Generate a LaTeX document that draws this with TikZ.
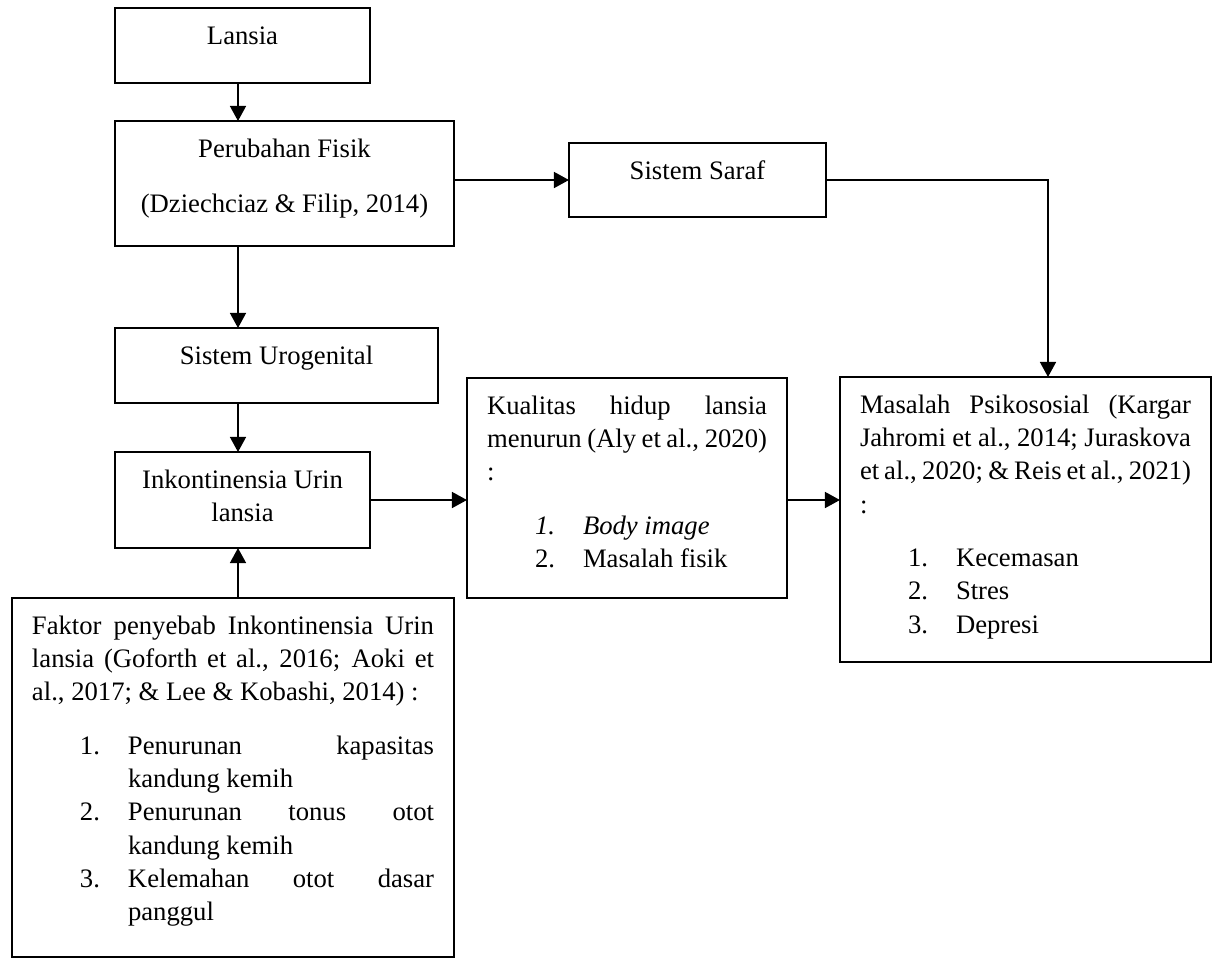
\documentclass[tikz,border=0pt]{standalone}
\usepackage{fontspec}
\setmainfont{Liberation Serif}
\usetikzlibrary{arrows.meta, positioning}

\newdimen\pxu
\pxu=0.45pt
% box of fixed size, text starts at the top
\newcommand{\isi}[4]{%
  \begin{minipage}[t][#2\pxu][t]{#1\pxu}%
  \hspace*{#3\pxu}%
  \begin{minipage}[t]{\dimexpr\pxu*#1-\pxu*#3*2\relax}%
  \rule{0pt}{36\pxu}#4%
  \end{minipage}%
  \end{minipage}}
\newcommand{\butir}[1]{\hspace*{48\pxu}\makebox[48\pxu][l]{#1}}

\tikzset{
  kotak/.style={draw, line width=0.8pt, rectangle, anchor=north west,
    inner sep=0pt, outer sep=0pt, font=\fontsize{12pt}{15pt}\selectfont},
  panah/.style={-{Triangle[length=6.8pt,width=7.2pt]}, line width=0.8pt},
}

\begin{document}
\begin{tikzpicture}[x=0.45pt, y=-0.45pt]
        \useasboundingbox (0,0) rectangle (1218,958);

        \node[kotak] (lansia) at (115,8) {\isi{255}{75}{16}{\centering Lansia}};
        \node[kotak] (fisik) at (115,121) {\isi{339}{125}{16}{\centering Perubahan Fisik\\[22\pxu](Dziechciaz \& Filip, 2014)}};
        \node[kotak] (saraf) at (569,143) {\isi{257}{74}{16}{\centering Sistem Saraf}};
        \node[kotak] (uro) at (115,328) {\isi{323}{75}{16}{\centering Sistem Urogenital}};
        \node[kotak] (inkon) at (115,452) {\isi{255}{96}{16}{\centering Inkontinensia Urin\\lansia}};
        \node[kotak] (kualitas) at (467,378) {\isi{320}{220}{20}{%
            \makebox[\linewidth][s]{Kualitas hidup lansia}\\
            \makebox[\linewidth][s]{menurun (Aly et al., 2020)}\\
            :\\[20\pxu]
            \butir{\textit{1.}}\textit{Body image}\\
            \butir{2.}Masalah fisik}};
        \node[kotak] (masalah) at (840,377) {\isi{371}{285}{20}{%
            \makebox[\linewidth][s]{Masalah Psikososial (Kargar}\\
            \makebox[\linewidth][s]{Jahromi et al., 2014; Juraskova}\\
            \makebox[\linewidth][s]{et al., 2020; \& Reis et al., 2021)}\\
            :\\[20\pxu]
            \butir{1.}Kecemasan\\
            \butir{2.}Stres\\
            \butir{3.}Depresi}};
        \node[kotak] (faktor) at (12,598) {\isi{442}{359}{20}{%
            \makebox[\linewidth][s]{Faktor penyebab Inkontinensia Urin}\\
            \makebox[\linewidth][s]{lansia (Goforth et al., 2016; Aoki et}\\
            al., 2017; \& Lee \& Kobashi, 2014) :\\[20\pxu]
            \butir{1.}\makebox[\dimexpr\linewidth-96\pxu\relax][s]{Penurunan kapasitas}\\
            \hspace*{96\pxu}kandung kemih\\
            \butir{2.}\makebox[\dimexpr\linewidth-96\pxu\relax][s]{Penurunan tonus otot}\\
            \hspace*{96\pxu}kandung kemih\\
            \butir{3.}\makebox[\dimexpr\linewidth-96\pxu\relax][s]{Kelemahan otot dasar}\\
            \hspace*{96\pxu}panggul}};

        \coordinate (spine) at (238,0);
        \coordinate (turn) at (1048,0);

        \draw[panah] (lansia.south -| spine) -- (fisik.north -| spine);
        \draw[panah] (fisik.south -| spine) -- (uro.north -| spine);
        \draw[panah] (uro.south -| spine) -- (inkon.north -| spine);
        \draw[panah] (faktor.north -| spine) -- (inkon.south -| spine);
        \draw[panah] (fisik.east |- saraf.west) -- (saraf.west);
        \draw[panah] (inkon.east) -- (inkon.east -| kualitas.west);
        \draw[panah] (kualitas.east |- inkon.east) -- (masalah.west |- inkon.east);
        \draw[panah] (saraf.east) -- (saraf.east -| turn) -- (masalah.north -| turn);

    \end{tikzpicture}
\end{document}
